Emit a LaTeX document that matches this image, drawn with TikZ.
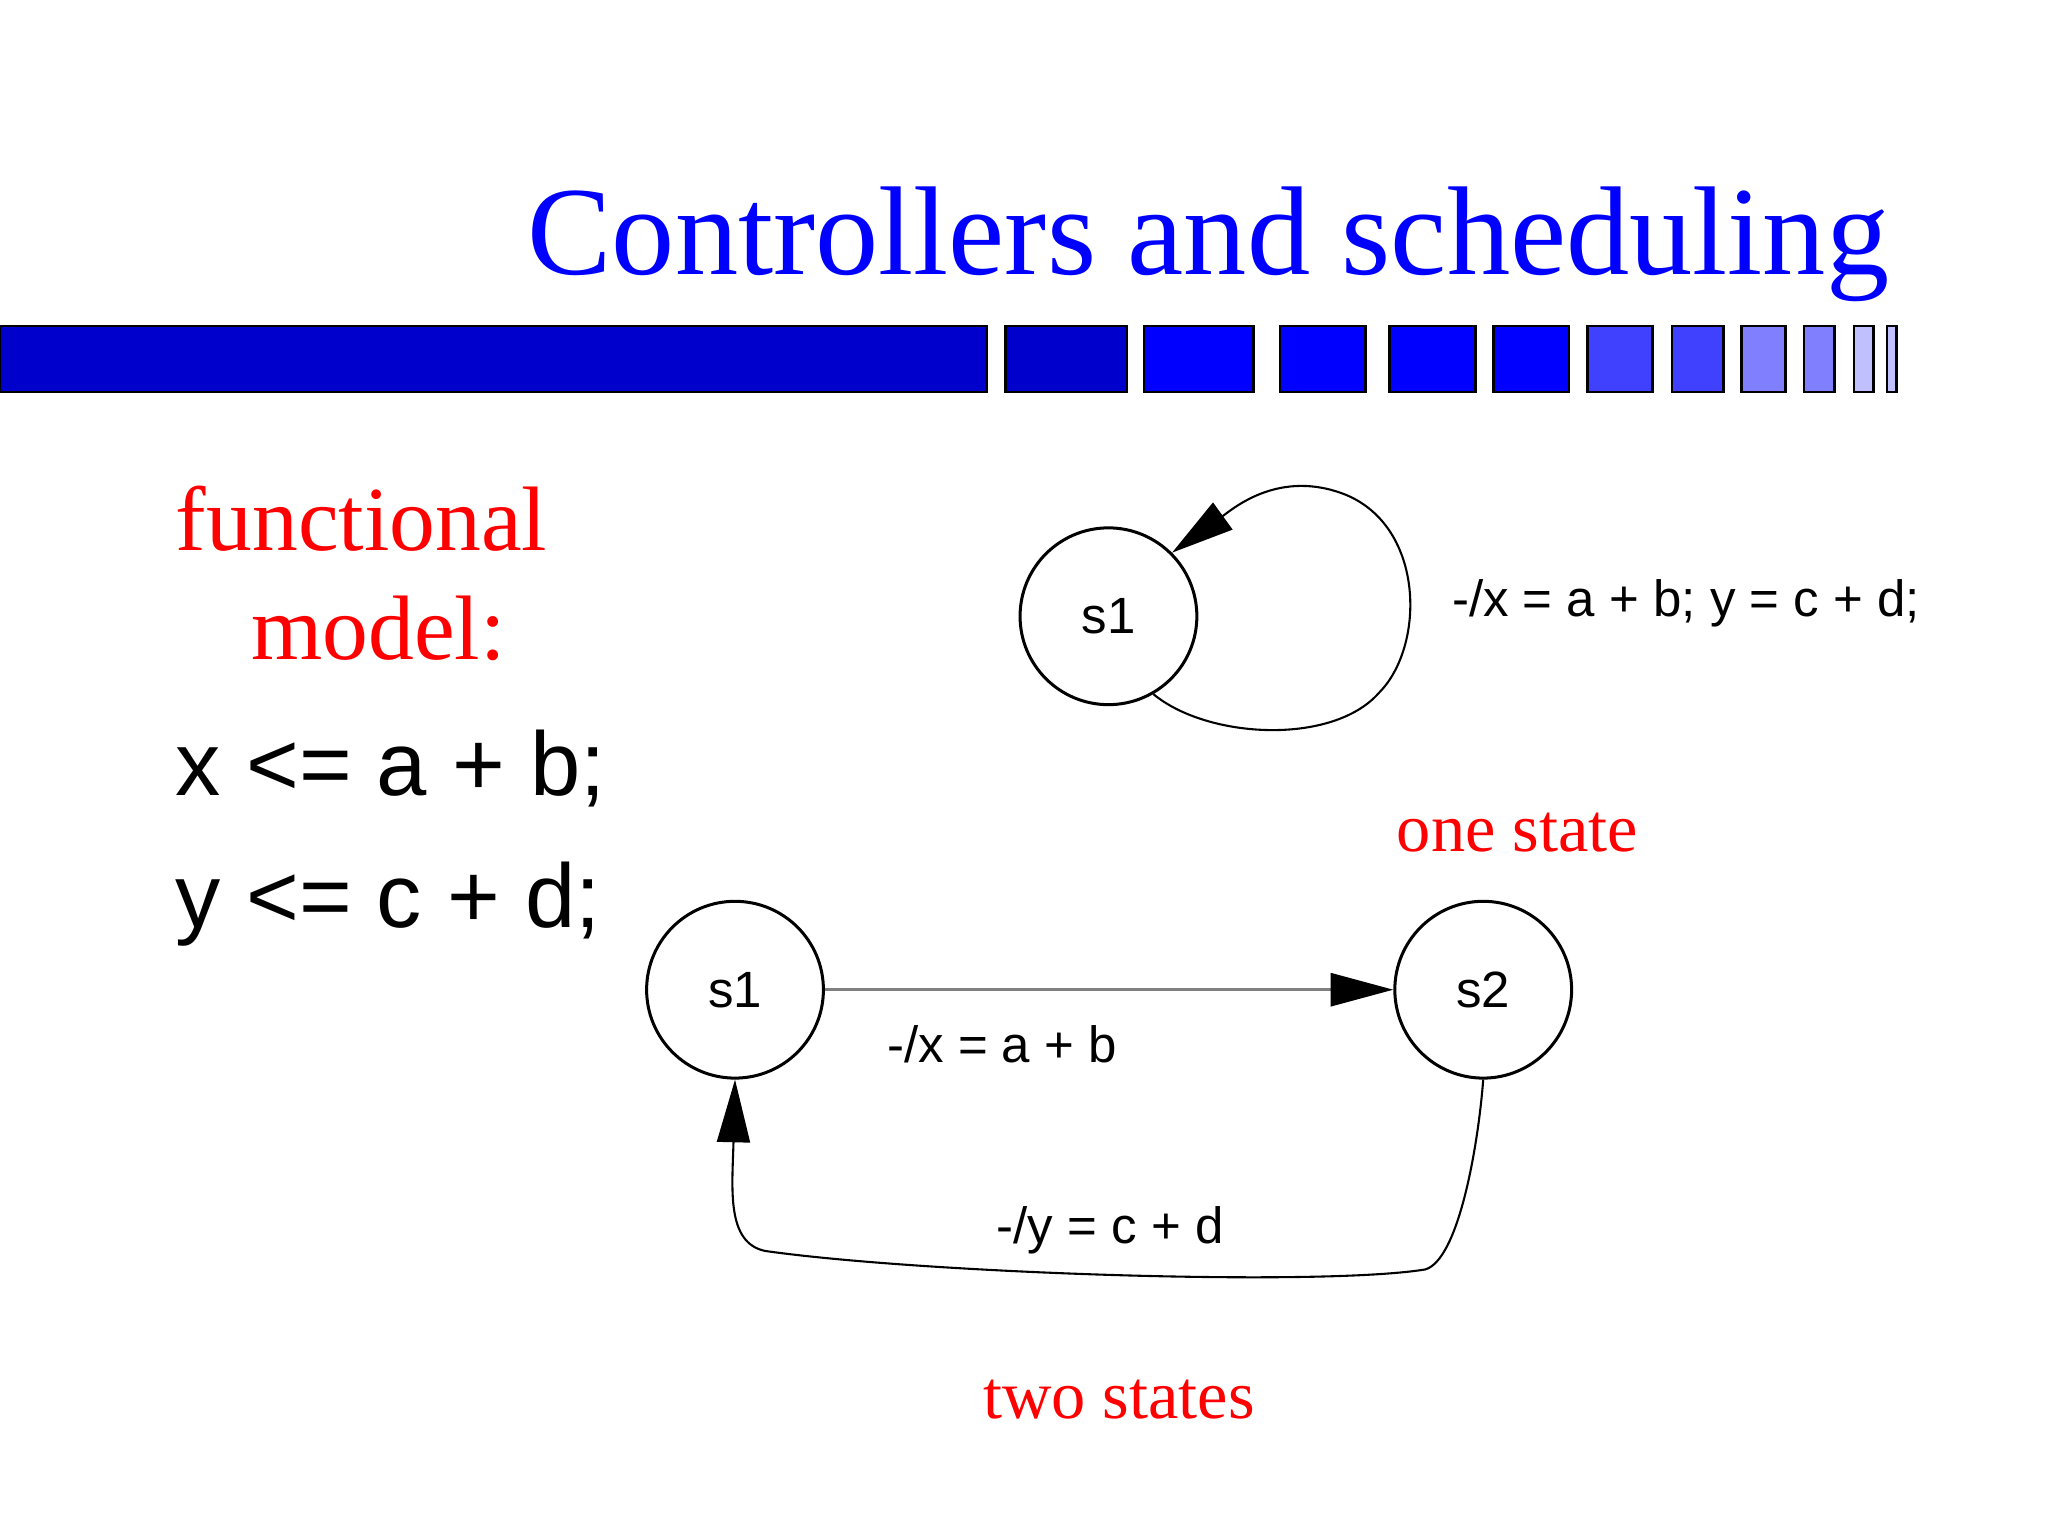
\documentclass[tikz,border=0pt]{standalone}
\usepackage{fontspec}
\setmainfont{Liberation Serif}
\newfontfamily\sansf{Liberation Sans}
\usetikzlibrary{arrows.meta}
\begin{document}
\begin{tikzpicture}[x=0.02cm,y=-0.02cm,
  st/.style={circle,draw,line width=1.3pt,minimum size=2.68cm,inner sep=0pt,font=\sansf\fontsize{22}{25}\selectfont},
  lbl/.style={font=\sansf\fontsize{22}{25}\selectfont,anchor=base west,inner sep=0pt},
  red/.style={text=red,font=\fontsize{29.5}{32}\selectfont,inner sep=0pt},
  bar/.style={draw=black,line width=1.2pt},
  tip/.style={-{Triangle[length=0.95cm,width=0.5cm,fill=black,color=black]}}]
\useasboundingbox (0,0) rectangle (1552,1164);
\definecolor{b1}{HTML}{0000CC}\definecolor{b2}{HTML}{0000FF}
\definecolor{b3}{HTML}{4040FF}\definecolor{b4}{HTML}{8080FF}\definecolor{b5}{HTML}{C0C0FF}
\node[anchor=base east,text=blue,font=\fontsize{54.5}{60}\selectfont,inner sep=0pt] (title) at (1432,208) {Controllers and scheduling};
\foreach \a/\b/\c in {0/748/b1,762/854/b1,867/950/b2,970/1035/b2,1053/1118/b2,1132/1189/b2,1203/1252/b3,1267/1306/b3,1320/1353/b4,1367/1390/b4,1405/1420/b5,1430/1437/b5}
  \draw[bar,fill=\c] (\a,247) rectangle (\b,297);
\node[anchor=base west,text=red,font=\fontsize{39.5}{44}\selectfont,inner sep=0pt] (f1) at (133,417) {functional};
\node[anchor=base west,text=red,font=\fontsize{39.5}{44}\selectfont,inner sep=0pt] (f2) at (190,500) {model:};
\node[anchor=base west,font=\sansf\fontsize{39}{44}\selectfont,inner sep=0pt] (e1) at (133,603) {x <= a + b;};
\node[anchor=base west,font=\sansf\fontsize{39}{44}\selectfont,inner sep=0pt] (e2) at (133,703) {y <= c + d;};
\node[st] (t) at (840,467) {s1};
\node[st] (a) at (557,750) {s1};
\node[st] (b) at (1124,750) {s2};
\draw[tip,line width=0.9pt] (t.-60) .. controls (915,560) and (1010,565) .. (1045,525) .. controls (1080,490) and (1080,400) .. (1020,375) .. controls (970,355) and (935,385) .. (t.45);
\node[lbl] (l1) at (1100,467) {-/x = a + b; y = c + d;};
\draw[tip,draw=gray,line width=1.3pt] (a) -- (b);
\node[lbl] (l2) at (672,805) {-/x = a + b};
\draw[tip,line width=0.9pt] (b.south) .. controls (1120,870) and (1105,955) .. (1080,962) .. controls (1000,975) and (700,965) .. (580,948) .. controls (550,942) and (555,900) .. (a.south);
\node[lbl] (l3) at (755,942) {-/y = c + d};
\node[red,anchor=base] (os) at (1150,645) {one state};
\node[red,anchor=base] (ts) at (848,1075) {two states};
\end{tikzpicture}
\end{document}
